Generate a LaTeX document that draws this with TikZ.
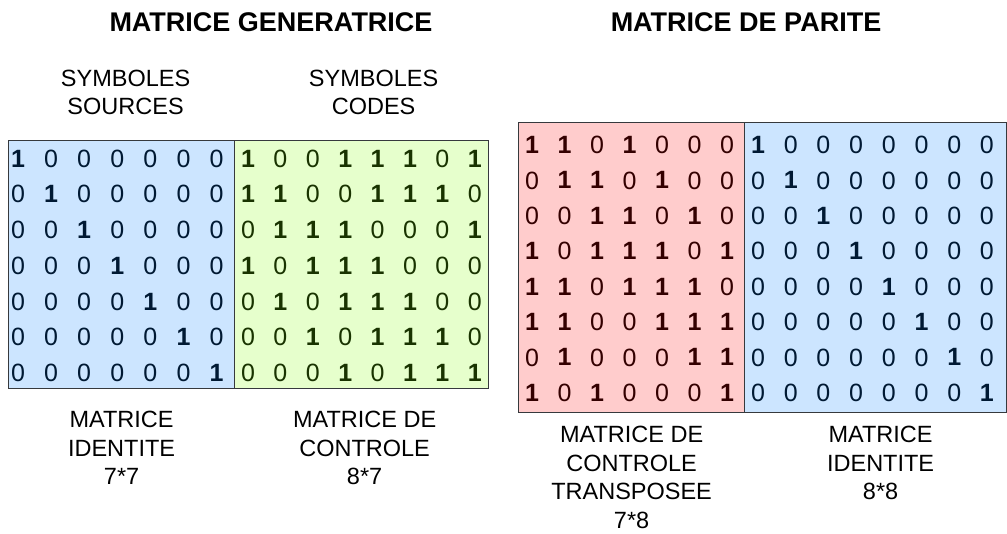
\documentclass[tikz,border=0pt]{standalone}
\usepackage{fontspec}
\setmainfont{Liberation Sans}
\usepackage{xcolor}
\usetikzlibrary{positioning}

\definecolor{blueFill}{HTML}{CCE5FF}
\definecolor{blueText}{HTML}{001933}
\definecolor{greenFill}{HTML}{E6FFCC}
\definecolor{greenText}{HTML}{193300}
\definecolor{redFill}{HTML}{FFCCCC}
\definecolor{redText}{HTML}{330000}
\definecolor{boxLine}{HTML}{36393D}

% ones in bold, zeros plain
\newcommand{\matbit}[1]{\ifnum#1=1 \textbf{1}\else 0\fi}

\begin{document}
\begin{tikzpicture}[
    x=1pt, y=-1pt,
    block/.style={rectangle, draw=boxLine, line width=1.2pt, inner sep=0pt, anchor=north west},
    digit/.style={inner sep=0pt, font=\fontsize{25}{25}\selectfont},
    caption/.style={align=center, inner sep=0pt, font=\fontsize{23.5}{28.5}\selectfont},
    heading/.style={inner sep=0pt, anchor=north, font=\fontsize{27}{30}\selectfont\bfseries}
]
    \useasboundingbox (0,0) rectangle (1007,534);

    % Titles
    \node[heading] (gentitle) at (271,12) {MATRICE GENERATRICE};
    \node[heading] (partitle) at (746,12) {MATRICE DE PARITE};

    % Matrix blocks
    \node[block, fill=blueFill, minimum width=226pt, minimum height=248pt] (ident1) at (8,140) {};
    \node[block, fill=greenFill, minimum width=254pt, minimum height=248pt] (ctrl) at (234,140) {};
    \node[block, fill=redFill, minimum width=226pt, minimum height=290pt] (ctrlT) at (518,122) {};
    \node[block, fill=blueFill, minimum width=262pt, minimum height=290pt] (ident2) at (744,122) {};

    % Identity 7*7
    \foreach \r in {0,...,6} {
        \foreach \c in {0,...,6} {
            \pgfmathtruncatemacro{\b}{\r==\c}
            \node[digit, text=blueText] (ia-\r-\c) at ({18+33.1*\c},{158.5+35.75*\r}) {\matbit{\b}};
        }
    }

    % Control matrix 8*7
    \foreach \row [count=\r from 0] in {{1,0,0,1,1,1,0,1},{1,1,0,0,1,1,1,0},{0,1,1,1,0,0,0,1},
        {1,0,1,1,1,0,0,0},{0,1,0,1,1,1,0,0},{0,0,1,0,1,1,1,0},{0,0,0,1,0,1,1,1}} {
        \foreach \b [count=\c from 0] in \row {
            \node[digit, text=greenText] (g-\r-\c) at ({248+32.4*\c},{158.5+35.75*\r}) {\matbit{\b}};
        }
    }

    % Transposed control matrix 7*8
    \foreach \row [count=\r from 0] in {{1,1,0,1,0,0,0},{0,1,1,0,1,0,0},{0,0,1,1,0,1,0},{1,0,1,1,1,0,1},
        {1,1,0,1,1,1,0},{1,1,0,0,1,1,1},{0,1,0,0,0,1,1},{1,0,1,0,0,0,1}} {
        \foreach \b [count=\c from 0] in \row {
            \node[digit, text=redText] (t-\r-\c) at ({532+32.5*\c},{145+35.4*\r}) {\matbit{\b}};
        }
    }

    % Identity 8*8
    \foreach \r in {0,...,7} {
        \foreach \c in {0,...,7} {
            \pgfmathtruncatemacro{\b}{\r==\c}
            \node[digit, text=blueText] (ib-\r-\c) at ({758+32.7*\c},{145+35.4*\r}) {\matbit{\b}};
        }
    }

    % Captions
    \node[caption, above=25pt of ident1, xshift=4pt] (srclab) {SYMBOLES\\SOURCES};
    \node[caption, above=25pt of ctrl, xshift=12pt] (codelab) {SYMBOLES\\CODES};
    \node[caption, below=22pt of ident1] (identlab1) {MATRICE\\IDENTITE\\7*7};
    \node[caption, below=22pt of ctrl, xshift=3pt] (ctrllab) {MATRICE DE\\CONTROLE\\8*7};
    \node[caption, below=13pt of ctrlT] (ctrlTlab) {MATRICE DE\\CONTROLE\\TRANSPOSEE\\7*8};
    \node[caption, below=13pt of ident2, xshift=5pt] (identlab2) {MATRICE\\IDENTITE\\8*8};
\end{tikzpicture}
\end{document}
